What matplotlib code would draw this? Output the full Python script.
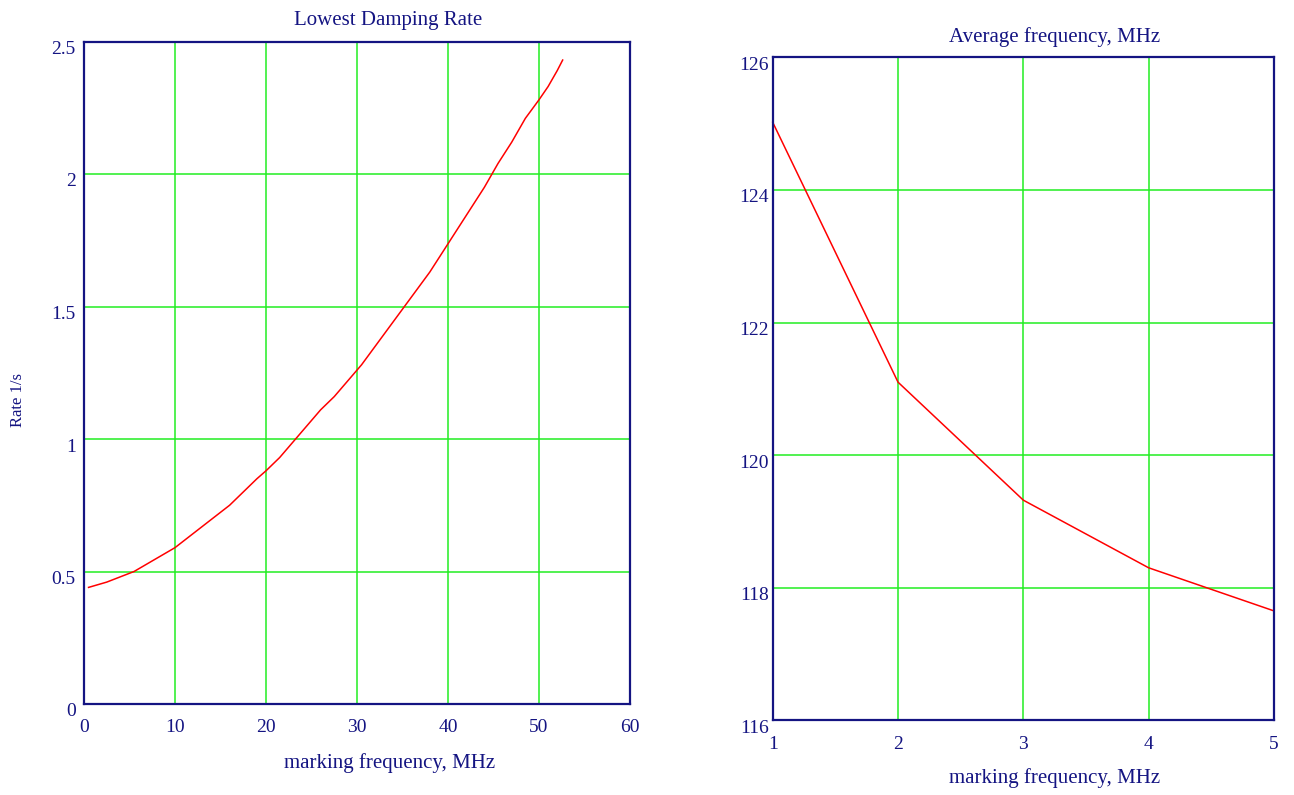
import matplotlib
matplotlib.use("Agg")
import matplotlib.pyplot as plt
import matplotlib.transforms as mtransforms

# Left panel: lowest damping rate vs marking frequency
rate_freq = [0.5, 1.5, 2.5, 4.0, 5.5, 6.5, 8.0, 9.0, 10.0, 11.5, 13.0, 14.5,
             16.0, 17.5, 19.0, 20.0, 21.5, 23.0, 24.5, 26.0, 27.5, 29.0, 30.5,
             32.0, 33.5, 35.0, 36.5, 38.0, 39.5, 41.0, 42.5, 44.0, 45.5, 47.0,
             48.5, 50.0, 51.0, 52.0, 52.6]
rate_vals = [0.44, 0.45, 0.46, 0.48, 0.50, 0.52, 0.55, 0.57, 0.59, 0.63, 0.67, 0.71,
             0.75, 0.80, 0.85, 0.88, 0.93, 0.99, 1.05, 1.11, 1.16, 1.22, 1.28,
             1.35, 1.42, 1.49, 1.56, 1.63, 1.71, 1.79, 1.87, 1.95, 2.04, 2.12,
             2.21, 2.28, 2.33, 2.39, 2.43]

# Right panel: average frequency vs marking frequency
avg_x = [1, 2, 3, 4, 5]
avg_vals = [125.02, 121.1, 119.32, 118.3, 117.65]

navy = "#141482"
grid_green = "#22ee22"
serif = "Liberation Serif"

plt.rcParams["font.family"] = serif

fig = plt.figure(figsize=(12.94, 7.95), dpi=100)
ax1 = fig.add_axes([84 / 1294, 1 - 704 / 795, 546 / 1294, 662.5 / 795])
ax2 = fig.add_axes([772.7 / 1294, 1 - 720.3 / 795, 501.3 / 1294, 663 / 795])

down = mtransforms.ScaledTranslation(0, -6 / 100, fig.dpi_scale_trans)

for ax in (ax1, ax2):
    ax.set_axisbelow(True)
    ax.grid(True, color=grid_green, linewidth=1.1)
    for sp in ax.spines.values():
        sp.set_color(navy)
        sp.set_linewidth(1.6)
    ax.tick_params(length=0, labelcolor=navy, labelsize=14)

# Left
ax1.plot(rate_freq, rate_vals, color="red", linewidth=1.1)
ax1.set_xlim(0, 60)
ax1.set_ylim(0, 2.5)
ax1.set_xticks([0, 10, 20, 30, 40, 50, 60])
ax1.set_yticks([0, 0.5, 1, 1.5, 2, 2.5])
ax1.set_yticklabels(["0", "0.5", "1", "1.5", "2", "2.5"])
ax1.tick_params(axis="x", pad=11)
ax1.tick_params(axis="y", pad=6)
for lbl in ax1.get_yticklabels():
    lbl.set_transform(lbl.get_transform() + down)

# Right
ax2.plot(avg_x, avg_vals, color="red", linewidth=1.1, clip_on=False)
ax2.set_xlim(1, 5)
ax2.set_ylim(116, 126)
ax2.set_xticks([1, 2, 3, 4, 5])
ax2.set_yticks([116, 118, 120, 122, 124, 126])
ax2.tick_params(axis="x", pad=11)
ax2.tick_params(axis="y", pad=3)
for lbl in ax2.get_yticklabels():
    lbl.set_transform(lbl.get_transform() + down)

# Titles and axis labels
fig.text(388 / 1294, 1 - 20 / 795, "Lowest Damping Rate", color=navy,
         fontsize=15, ha="center", va="center")
fig.text(390 / 1294, 1 - 763 / 795, "marking frequency, MHz", color=navy,
         fontsize=15, ha="center", va="center")
fig.text(18 / 1294, 1 - 400 / 795, "Rate 1/s", color=navy, fontsize=12,
         ha="center", va="center", rotation=90)
fig.text(1055 / 1294, 1 - 37 / 795, "Average frequency, MHz", color=navy,
         fontsize=15, ha="center", va="center")
fig.text(1055 / 1294, 1 - 778 / 795, "marking frequency, MHz", color=navy,
         fontsize=15, ha="center", va="center")

fig.savefig("out.png", dpi=100)
